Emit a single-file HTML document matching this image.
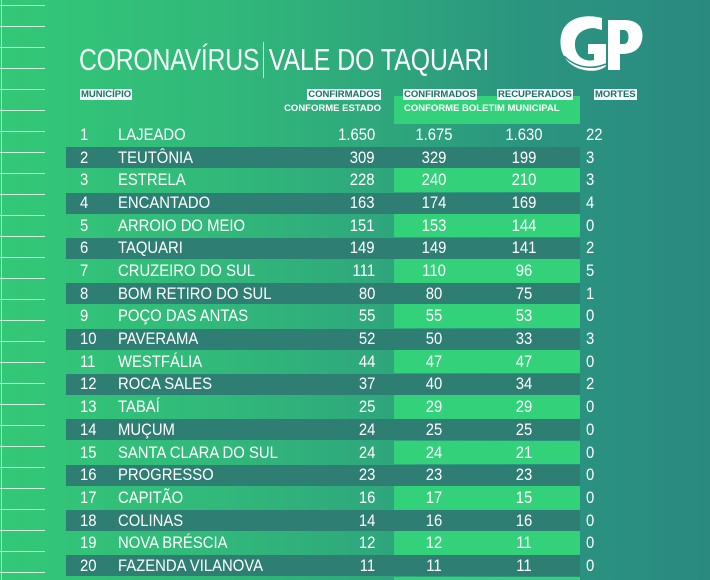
<!DOCTYPE html>
<html style="width:710px;height:580px;overflow:hidden"><head><meta charset="utf-8">
<style>
html,body{margin:0;padding:0}
body{width:710px;height:580px;overflow:hidden;position:relative;font-family:"Liberation Sans",sans-serif;
background:linear-gradient(90deg,#33c877 0%,#31b97a 30%,#2ea67c 55%,#2b9480 75%,#2a8a80 100%);}
.a{position:absolute;white-space:nowrap;color:#fff}
.t{font-size:16.5px;line-height:20px}
.h{font-size:9.5px;font-weight:bold;line-height:11px}
.lab{background:#f4fbf8;color:#226f68;padding:0 1px}
.ln{position:absolute;left:0;width:45px;height:1px;background:rgba(255,255,255,0.75)}
.band{position:absolute;left:66px;width:514px;height:21px;background:#2f7e74}
.gc{position:absolute;left:394px;width:186px;height:23px;background:#33d27a}
</style></head><body>
<div style="position:absolute;left:1px;top:0;width:1px;height:580px;background:rgba(255,255,255,0.5)"></div>
<div id="root"></div>
<div class="a" style="left:79px;top:40px;font-size:31px;line-height:40px;transform:scaleX(0.8);transform-origin:0 0;">
<span style="font-weight:300;letter-spacing:-0.3px;opacity:0.95">CORONAVÍRUS</span><span style="display:inline-block;width:1px;height:36px;background:#fff;margin:0 6px 0 5px;vertical-align:-8px"></span><span>VALE DO TAQUARI</span></div>
<svg class="a" style="left:558px;top:14px" width="86" height="62" viewBox="0 0 86 62">
<path fill="#fff" d="M44 4 C30 0 10 2 4 18 C-1 34 6 52 26 56 C36 58 44 56 48 52 L48 30 L30 30 L30 40 L36 40 L36 46 C28 48 18 44 17 32 C16 20 26 14 36 14 L44 16 Z"/>
<path fill="#fff" d="M50 6 L66 6 C82 6 86 16 84 26 C82 36 74 40 64 40 L62 40 L62 56 L50 56 Z M62 16 L62 30 L66 30 C72 30 72 16 66 16 Z"/>
<path fill="none" stroke="#2a8a80" stroke-width="1.5" d="M6 42 C18 54 34 56 48 50"/>
</svg>
<div class="a h" style="left:80px;top:89px"><span class="lab">MUNICÍPIO</span></div>
<div class="a h" style="right:329px;top:89px"><span class="lab">CONFIRMADOS</span></div>
<div class="a h" style="right:329px;top:103px">CONFORME ESTADO</div>
<div class="gc" style="top:96px;height:28px"></div>
<div class="a h" style="left:403px;top:89px"><span class="lab">CONFIRMADOS</span></div>
<div class="a h" style="left:497px;top:89px"><span class="lab">RECUPERADOS</span></div>
<div class="a h" style="left:594px;top:89px"><span class="lab">MORTES</span></div>
<div class="a h" style="left:404px;top:103px">CONFORME BOLETIM MUNICIPAL</div>
<script>
(function(){
var d=[["LAJEADO","1.650","1.675","1.630","22"],["TEUTÔNIA","309","329","199","3"],["ESTRELA","228","240","210","3"],["ENCANTADO","163","174","169","4"],["ARROIO DO MEIO","151","153","144","0"],["TAQUARI","149","149","141","2"],["CRUZEIRO DO SUL","111","110","96","5"],["BOM RETIRO DO SUL","80","80","75","1"],["POÇO DAS ANTAS","55","55","53","0"],["PAVERAMA","52","50","33","3"],["WESTFÁLIA","44","47","47","0"],["ROCA SALES","37","40","34","2"],["TABAÍ","25","29","29","0"],["MUÇUM","24","25","25","0"],["SANTA CLARA DO SUL","24","24","21","0"],["PROGRESSO","23","23","23","0"],["CAPITÃO","16","17","15","0"],["COLINAS","14","16","16","0"],["NOVA BRÉSCIA","12","12","11","0"],["FAZENDA VILANOVA","11","11","11","0"]];
var h="";
for(var y=5;y<580;y+=21)h+='<div class="ln" style="top:'+y+'px"></div>';
var p=22.68;
for(var i=0;i<d.length;i++){
 var c=135+i*p, ty=c-10;
 if(i%2==1)h+='<div class="band" style="top:'+(c-10.5)+'px"></div>';
 else if(i>0)h+='<div class="gc" style="top:'+(c-12)+'px;height:'+(p+1)+'px"></div>';
 var r=d[i];
 var s='transform:scaleX(0.9);';
 h+='<div class="a t" style="left:80px;top:'+ty+'px;'+s+'transform-origin:0 0">'+(i+1)+'</div>';
 h+='<div class="a t" style="left:118px;top:'+ty+'px;'+s+'transform-origin:0 0">'+r[0]+'</div>';
 h+='<div class="a t" style="right:335px;top:'+ty+'px;'+s+'transform-origin:100% 0">'+r[1]+'</div>';
 h+='<div class="a t" style="left:384px;width:100px;text-align:center;top:'+ty+'px;'+s+'transform-origin:50% 0">'+r[2]+'</div>';
 h+='<div class="a t" style="left:474px;width:100px;text-align:center;top:'+ty+'px;'+s+'transform-origin:50% 0">'+r[3]+'</div>';
 h+='<div class="a t" style="left:586px;top:'+ty+'px;'+s+'transform-origin:0 0">'+r[4]+'</div>';
}
h+='<div class="gc" style="top:'+(135+20*p-12)+'px;height:12px"></div>';
document.getElementById("root").innerHTML=h;
})();
</script>
</body></html>
